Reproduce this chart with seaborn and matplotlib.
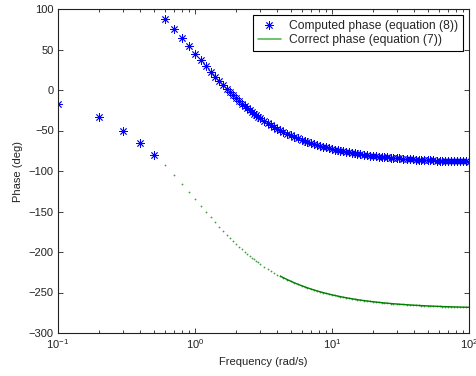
import numpy as np
import pandas as pd
import matplotlib
matplotlib.use("Agg")
import matplotlib.pyplot as plt
from matplotlib.lines import Line2D
import seaborn as sns

# Frequencies (rad/s)
freq = [0.1, 0.2, 0.3, 0.4, 0.5, 0.6, 0.7, 0.8, 0.9, 1.0,
        1.1, 1.2, 1.3, 1.4, 1.5, 1.6, 1.7, 1.8, 1.9, 2.0,
        2.1, 2.2, 2.3, 2.4, 2.5, 2.6, 2.7, 2.8, 2.9, 3.0,
        3.2, 3.4, 3.6, 3.8, 4.0, 4.2, 4.4, 4.7, 5.0, 5.3,
        5.6, 6.0, 6.3, 6.6, 7.0, 7.4, 7.8, 8.2, 8.6, 9.0,
        9.5, 10, 10.5, 11, 11.5, 12, 12.6, 13.2, 13.9, 14.6,
        15.3, 16, 17, 18, 19, 20, 21, 22, 23, 24,
        25, 27, 28, 30, 31, 33, 35, 37, 39, 41,
        43, 45, 47, 50, 52, 55, 58, 61, 64, 67,
        70, 74, 78, 82, 86, 90, 95, 100]

# Correct phase (equation (7)), degrees
correct_phase = [-17.13, -33.93, -50.10, -65.40, -79.70, -92.89, -104.98, -115.98, -125.96, -135.00,
                 -143.18, -150.58, -157.29, -163.39, -168.93, -173.99, -178.60, -182.84, -186.72, -190.30,
                 -193.61, -196.67, -199.50, -202.14, -204.60, -206.89, -209.03, -211.04, -212.92, -214.70,
                 -217.94, -220.91, -223.43, -225.77, -227.89, -229.82, -231.59, -233.96, -236.07, -237.95,
                 -239.63, -241.61, -242.94, -244.15, -245.61, -246.91, -248.08, -249.14, -250.10, -250.98,
                 -251.97, -252.87, -253.68, -254.42, -255.09, -255.71, -256.39, -257.00, -257.66, -258.25,
                 -258.78, -259.27, -259.90, -260.46, -260.96, -261.41, -261.82, -262.19, -262.53, -262.84,
                 -263.13, -263.64, -263.86, -264.27, -264.46, -264.79, -265.09, -265.36, -265.59, -265.81,
                 -266.00, -266.18, -266.34, -266.56, -266.69, -266.87, -267.04, -267.18, -267.31, -267.43,
                 -267.54, -267.68, -267.80, -267.90, -268.00, -268.09, -268.19, -268.28]

# Computed phase (equation (8)), degrees
computed_phase = [-17.13, -33.93, -50.10, -65.40, -79.70, 87.11, 75.02, 64.02, 54.04, 45.00,
                  36.82, 29.42, 22.71, 16.61, 11.07, 6.01, 1.40, -2.84, -6.72, -10.30,
                  -13.61, -16.67, -19.50, -22.14, -24.60, -26.89, -29.03, -31.04, -32.92, -34.70,
                  -37.94, -40.91, -43.43, -45.77, -47.89, -49.82, -51.59, -53.96, -56.07, -57.95,
                  -59.63, -61.61, -62.94, -64.15, -65.61, -66.91, -68.08, -69.14, -70.10, -70.98,
                  -71.97, -72.87, -73.68, -74.42, -75.09, -75.71, -76.39, -77.00, -77.66, -78.25,
                  -78.78, -79.27, -79.90, -80.46, -80.96, -81.41, -81.82, -82.19, -82.53, -82.84,
                  -83.13, -83.64, -83.86, -84.27, -84.46, -84.79, -85.09, -85.36, -85.59, -85.81,
                  -86.00, -86.18, -86.34, -86.56, -86.69, -86.87, -87.04, -87.18, -87.31, -87.43,
                  -87.54, -87.68, -87.80, -87.90, -88.00, -88.09, -88.19, -88.28]

yticks = [-300, -250, -200, -150, -100, -50, 0, 50, 100]
label_computed = "Computed phase (equation (8))"
label_correct = "Correct phase (equation (7))"

sns.set_theme(style="ticks")
plt.rcParams['font.family'] = ['Liberation Sans', 'DejaVu Sans']
plt.rcParams['mathtext.fontset'] = 'custom'
plt.rcParams['mathtext.rm'] = 'Liberation Sans'
plt.rcParams['mathtext.it'] = 'Liberation Sans'

df = pd.DataFrame({"freq": freq, "correct": correct_phase, "computed": computed_phase})

fig = plt.figure(figsize=(4.76, 3.76), dpi=100)
ax = fig.add_axes([58 / 476, 1 - 333 / 376, (469 - 58) / 476, (333 - 9) / 376])

blue = (0, 0, 1)
green = (0, 0.5, 0)
star = (8, 2, 0)

# correct phase: tiny dots, merging into a line at higher frequencies
sns.lineplot(data=df, x="freq", y="correct", ax=ax, color=green, linestyle='',
             marker='o', markersize=1.3, markeredgecolor=green, markeredgewidth=0,
             alpha=0.75, legend=False)
sns.lineplot(data=df[df["freq"] >= 4.2], x="freq", y="correct", ax=ax, color=green,
             linewidth=1.0, legend=False)
# computed phase: asterisks
sns.lineplot(data=df, x="freq", y="computed", ax=ax, color=blue, linestyle='',
             marker=star, markersize=6.0, markeredgecolor=blue, markeredgewidth=0.6,
             legend=False)

ax.set_xscale('log')
ax.set_xlim(0.1, 100)
ax.set_ylim(-300, 100)
ax.set_yticks(yticks)
ax.set_xlabel("Frequency (rad/s)", fontsize=8, color='#222222')
ax.set_ylabel("Phase (deg)", fontsize=8, color='#222222')
ax.tick_params(which='both', direction='in', top=True, right=True, labelsize=8,
               colors='#222222', width=0.6)
ax.tick_params(which='major', length=3.5, pad=3)
ax.tick_params(which='minor', length=2.2)
for s in ax.spines.values():
    s.set_visible(True)
    s.set_linewidth(0.8)
    s.set_color('#222222')

handles = [Line2D([], [], color=blue, linestyle='', marker=star, markersize=6.0,
                  markeredgewidth=0.6),
           Line2D([], [], color=(0.35, 0.72, 0.35), linewidth=1.2)]
leg = ax.legend(handles, [label_computed, label_correct], loc='upper right',
                bbox_to_anchor=(463 / 476, 1 - 15 / 376), bbox_transform=fig.transFigure,
                borderaxespad=0, fontsize=8.7, frameon=True, fancybox=False,
                edgecolor='black', framealpha=1, handlelength=1.9, handletextpad=0.7,
                borderpad=0.4, labelspacing=0.2)
leg.get_frame().set_linewidth(0.8)

fig.savefig("out.png", dpi=100)
